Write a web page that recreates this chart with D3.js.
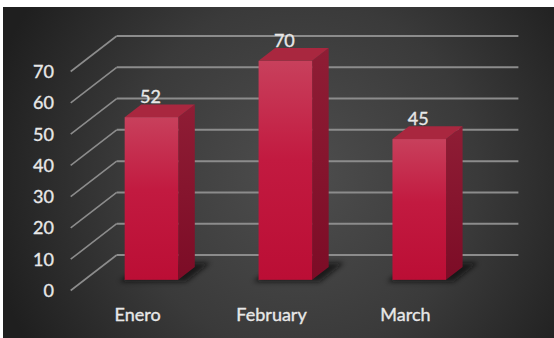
<!DOCTYPE html>
<html>
<head>
<meta charset="utf-8">
<script src="https://cdn.jsdelivr.net/npm/d3@7"></script>
<style>
  body { margin: 0; background: #fff; }
  text { font-family: Lato, "Open Sans", sans-serif; fill: #e8e8e8; stroke: #e8e8e8; stroke-width: 0.35px; }
</style>
</head>
<body>
<svg id="chart"></svg>
<script>
var categories = ['Enero', 'February', 'March'];
var values = [52, 70, 45];
var yTicks = [0, 10, 20, 30, 40, 50, 60, 70];

var W = 554, H = 338;
// 3d projection: front plane coords + depth (0 = floor front, 1 = back wall)
var depthX = 46, depthY = -35.5;
var barD0 = 0.3, barD1 = 0.66;

var svg = d3.select('#chart')
  .attr('width', W)
  .attr('height', H);

var defs = svg.append('defs');

var bg = defs.append('radialGradient')
  .attr('id', 'bg')
  .attr('gradientUnits', 'userSpaceOnUse')
  .attr('cx', 300).attr('cy', 175).attr('r', 320);
bg.append('stop').attr('offset', '0%').attr('stop-color', '#4e4e4e');
bg.append('stop').attr('offset', '55%').attr('stop-color', '#3a3a3a');
bg.append('stop').attr('offset', '100%').attr('stop-color', '#1f1f1f');

var front = defs.append('linearGradient')
  .attr('id', 'front').attr('x1', 0).attr('y1', 0).attr('x2', 0).attr('y2', 1);
front.append('stop').attr('offset', '0%').attr('stop-color', '#c8405c');
front.append('stop').attr('offset', '45%').attr('stop-color', '#c21a40');
front.append('stop').attr('offset', '100%').attr('stop-color', '#bb0e35');

var side = defs.append('linearGradient')
  .attr('id', 'side').attr('x1', 0).attr('y1', 0).attr('x2', 0).attr('y2', 1);
side.append('stop').attr('offset', '0%').attr('stop-color', '#8f1d35');
side.append('stop').attr('offset', '100%').attr('stop-color', '#7c0c26');

defs.append('filter').attr('id', 'blur')
  .attr('x', '-50%').attr('y', '-50%').attr('width', '200%').attr('height', '200%')
  .append('feGaussianBlur').attr('stdDeviation', 2.5);

svg.append('rect')
  .attr('x', 3).attr('y', 7)
  .attr('width', W - 3).attr('height', H - 7)
  .attr('fill', 'url(#bg)');

var x = d3.scaleBand()
  .domain(categories)
  .range([70.7, 472.4])
  .paddingInner(0.6)
  .paddingOuter(0.3);

var y = d3.scaleLinear()
  .domain([0, 70])
  .range([290.5, 71.5]);

var proj = (px, v, d) => [px + d * depthX, y(v) + d * depthY];
var line = d3.line();

var chart = svg.append('g');

// back wall gridlines
chart.selectAll('.grid')
  .data(yTicks)
  .enter().append('path')
  .attr('class', 'grid')
  .attr('d', v => line([proj(x.range()[0], v, 1), proj(x.range()[1], v, 1)]))
  .attr('stroke', '#8c8c8c')
  .attr('stroke-width', 2)
  .attr('fill', 'none');

// left wall diagonals
chart.selectAll('.diag')
  .data(yTicks)
  .enter().append('path')
  .attr('class', 'diag')
  .attr('d', v => line([proj(x.range()[0], v, 0), proj(x.range()[0], v, 1)]))
  .attr('stroke', '#8c8c8c')
  .attr('stroke-width', 1.6)
  .attr('fill', 'none');

// y labels
chart.selectAll('.ylab')
  .data(yTicks)
  .enter().append('text')
  .attr('class', 'ylab')
  .attr('x', 54)
  .attr('y', d => y(d))
  .attr('dy', '0.36em')
  .attr('text-anchor', 'end')
  .attr('font-size', '18px')
  .text(d => d);

var bars = chart.selectAll('.bar')
  .data(categories.map((c, i) => ({ c: c, v: values[i] })))
  .enter().append('g')
  .attr('class', 'bar');

// base shadow
bars.append('path')
  .attr('d', d => {
    var x0 = x(d.c) - 3, x1 = x(d.c) + x.bandwidth() + 10;
    return line([proj(x0, 0, barD0 - 0.05), proj(x1, 0, barD0 - 0.05),
      proj(x1, 0, barD1 + 0.12), proj(x0, 0, barD1 + 0.12)]) + 'Z';
  })
  .attr('fill', '#0a0a0a')
  .attr('opacity', 0.75)
  .attr('filter', 'url(#blur)');

// side face
bars.append('path')
  .attr('d', d => {
    var xr = x(d.c) + x.bandwidth();
    return line([proj(xr, 0, barD0), proj(xr, 0, barD1),
      proj(xr, d.v, barD1), proj(xr, d.v, barD0)]) + 'Z';
  })
  .attr('fill', 'url(#side)');

// top face
bars.append('path')
  .attr('d', d => {
    var xl = x(d.c), xr = x(d.c) + x.bandwidth();
    return line([proj(xl, d.v, barD0), proj(xr, d.v, barD0),
      proj(xr, d.v, barD1), proj(xl, d.v, barD1)]) + 'Z';
  })
  .attr('fill', '#a9273f');

// front face
bars.append('rect')
  .attr('x', d => proj(x(d.c), d.v, barD0)[0])
  .attr('y', d => proj(x(d.c), d.v, barD0)[1])
  .attr('width', x.bandwidth())
  .attr('height', d => y(0) - y(d.v))
  .attr('fill', 'url(#front)');

// value labels
bars.append('text')
  .attr('x', d => proj(x(d.c) + x.bandwidth() / 2, d.v, barD0)[0] - 1)
  .attr('y', d => proj(x(d.c), d.v, barD1)[1] - 1)
  .attr('text-anchor', 'middle')
  .attr('font-size', '18px')
  .text(d => d.v);

// category labels
chart.selectAll('.xlab')
  .data(categories)
  .enter().append('text')
  .attr('class', 'xlab')
  .attr('x', d => x(d) + x.bandwidth() / 2)
  .attr('y', 320.5)
  .attr('text-anchor', 'middle')
  .attr('font-size', '18px')
  .text(d => d);
</script>
</body>
</html>
